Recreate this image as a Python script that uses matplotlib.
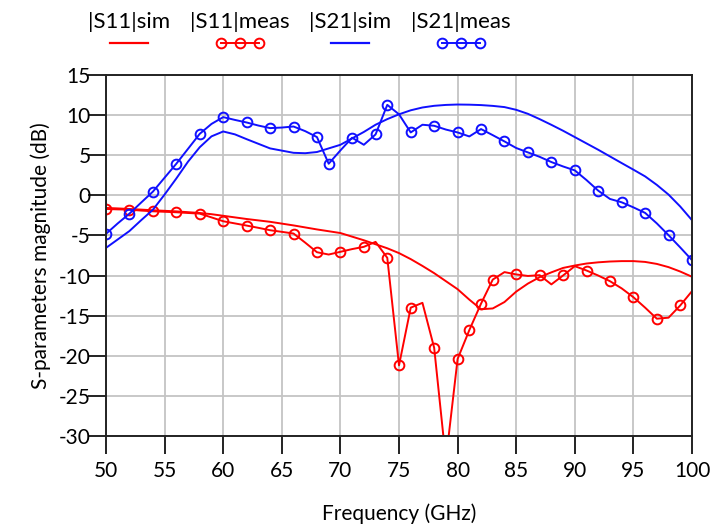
import matplotlib
matplotlib.use("Agg")
import matplotlib.pyplot as plt
from matplotlib.lines import Line2D

plt.rcParams["font.family"] = ["Lato", "DejaVu Sans"]
plt.rcParams["axes.unicode_minus"] = False

# Frequency grid of the measured traces (GHz)
freq_meas = [50, 51, 52, 53, 54, 55, 56, 57, 58, 59, 60, 61, 62, 63, 64, 65, 66, 67, 68, 69,
             70, 71, 72, 73, 74, 75, 76, 77, 78, 79, 80, 81, 82, 83, 84, 85, 86, 87, 88, 89,
             90, 91, 92, 93, 94, 95, 96, 97, 98, 99, 100]

s11_meas = [-1.7, -1.75, -1.78, -1.9, -1.99, -2.05, -2.11, -2.2, -2.28, -2.75, -3.23, -3.5, -3.77, -4.05, -4.35, -4.55, -4.76, -5.9, -7.09, -7.38,
            -7.04, -6.7, -6.42, -5.8, -7.79, -21.2, -14.0, -13.4, -19.0, -33.0, -20.4, -16.8, -13.5, -10.5, -9.57, -9.86, -10.05, -9.95, -11.1, -9.99,
            -8.83, -9.37, -10.0, -10.7, -11.6, -12.7, -14.0, -15.38, -15.25, -13.72, -11.94]

s21_meas = [-4.8, -3.5, -2.28, -0.9, 0.46, 2.2, 3.94, 5.8, 7.67, 8.9, 9.75, 9.4, 9.08, 8.7, 8.38, 8.45, 8.58, 8.0, 7.26, 3.94,
            5.6, 7.18, 6.3, 7.59, 11.28, 10.1, 7.84, 8.8, 8.67, 8.2, 7.84, 7.34, 8.26, 7.5, 6.72, 5.9, 5.35, 4.8, 4.15, 3.6,
            3.11, 1.9, 0.58, -0.45, -0.87, -1.5, -2.19, -3.5, -4.97, -6.5, -8.08]

# Frequencies carrying a circle marker on each measured trace
s11_marker_freq = [50, 52, 54, 56, 58, 60, 62, 64, 66, 68, 70, 72, 74, 75, 76, 78, 80, 81, 82, 83,
                   85, 87, 89, 91, 93, 95, 97, 99]
s21_marker_freq = [50, 52, 54, 56, 58, 60, 62, 64, 66, 68, 69, 71, 73, 74, 76, 78, 80, 82, 84, 86,
                   88, 90, 92, 94, 96, 98, 100]

# Simulated traces
freq_sim = [50, 51, 52, 53, 54, 55, 56, 57, 58, 59, 60, 61, 62, 64, 66, 67, 68, 70, 72, 73,
            74, 75, 76, 77, 78, 79, 80, 81, 82, 83, 84, 85, 86, 87, 88, 89, 90, 91, 92, 93,
            94, 95, 96, 97, 98, 99, 100]

s11_sim = [-1.57, -1.63, -1.7, -1.78, -1.86, -1.93, -2.0, -2.1, -2.2, -2.35, -2.55, -2.75, -2.95, -3.3, -3.75, -4.0, -4.25, -4.7, -5.6, -6.1,
           -6.6, -7.2, -7.95, -8.8, -9.7, -10.7, -11.7, -13.0, -14.2, -14.1, -13.3, -12.0, -11.0, -10.2, -9.6, -9.05, -8.75, -8.5, -8.35, -8.25,
           -8.2, -8.2, -8.3, -8.55, -8.95, -9.5, -10.15]

s21_sim = [-6.55, -5.5, -4.45, -3.1, -1.8, 0.1, 2.1, 4.2, 6.0, 7.35, 7.96, 7.6, 7.0, 5.85, 5.3, 5.25, 5.4, 6.3, 7.9, 8.8,
           9.5, 10.1, 10.6, 10.95, 11.16, 11.27, 11.32, 11.3, 11.25, 11.15, 11.0, 10.66, 10.16, 9.5, 8.79, 8.05, 7.26, 6.47, 5.68, 4.85,
           4.02, 3.2, 2.36, 1.3, 0.09, -1.4, -3.1]

x_ticks = [50, 55, 60, 65, 70, 75, 80, 85, 90, 95, 100]
y_ticks = [15, 10, 5, 0, -5, -10, -15, -20, -25, -30]

RED = "#ff0000"
BLUE = "#1010ff"

fig = plt.figure(figsize=(7.14, 5.24), dpi=100)
ax = fig.add_axes([106 / 714, 1 - 436 / 524, (692 - 106) / 714, (436 - 75) / 524])

mk = dict(marker="o", markersize=7, markerfacecolor="none", markeredgewidth=1.4)
s11_idx = [freq_meas.index(f) for f in s11_marker_freq]
s21_idx = [freq_meas.index(f) for f in s21_marker_freq]

ax.plot(freq_sim, s11_sim, color=RED, lw=1.4, zorder=3)
ax.plot(freq_meas, s11_meas, color=RED, lw=1.4, markevery=s11_idx, markeredgecolor=RED, zorder=3, **mk)
ax.plot(freq_sim, s21_sim, color=BLUE, lw=1.4, zorder=3)
ax.plot(freq_meas, s21_meas, color=BLUE, lw=1.4, markevery=s21_idx, markeredgecolor=BLUE, zorder=3, **mk)

ax.set_xlim(50, 100)
ax.set_ylim(-30, 15)
ax.set_xticks(x_ticks)
ax.set_yticks(y_ticks)
ax.grid(True, color="#c4c4c4", lw=1.3)
ax.set_axisbelow(True)
for s in ax.spines.values():
    s.set_color("#222222")
    s.set_linewidth(1.4)
    s.set_zorder(4)
ax.tick_params(axis="both", direction="out", length=13, width=1.4, color="#222222", labelsize=15)
ax.tick_params(axis="x", pad=5)
ax.tick_params(axis="y", pad=-2)

ax.set_xlabel("Frequency (GHz)", fontsize=15, labelpad=16)
ax.set_ylabel("S-parameters magnitude (dB)", fontsize=15, labelpad=6)

# Legend: names above short line samples
entries = [("|S11|sim", RED, False, 129), ("|S11|meas", RED, True, 240),
           ("|S21|sim", BLUE, False, 350), ("|S21|meas", BLUE, True, 461)]
for name, col, has_mk, cx in entries:
    fig.text(cx / 714, 1 - 22 / 524, name, ha="center", va="center", fontsize=16)
    x0, x1 = (cx - 19) / 714, (cx + 19) / 714
    yy = 1 - 43 / 524
    if has_mk:
        ln = Line2D([x0, (x0 + x1) / 2, x1], [yy] * 3, transform=fig.transFigure,
                    color=col, lw=1.4, markeredgecolor=col, **mk)
    else:
        ln = Line2D([x0, x1], [yy, yy], transform=fig.transFigure, color=col, lw=1.6)
    fig.add_artist(ln)

fig.savefig("out.png", dpi=100)
